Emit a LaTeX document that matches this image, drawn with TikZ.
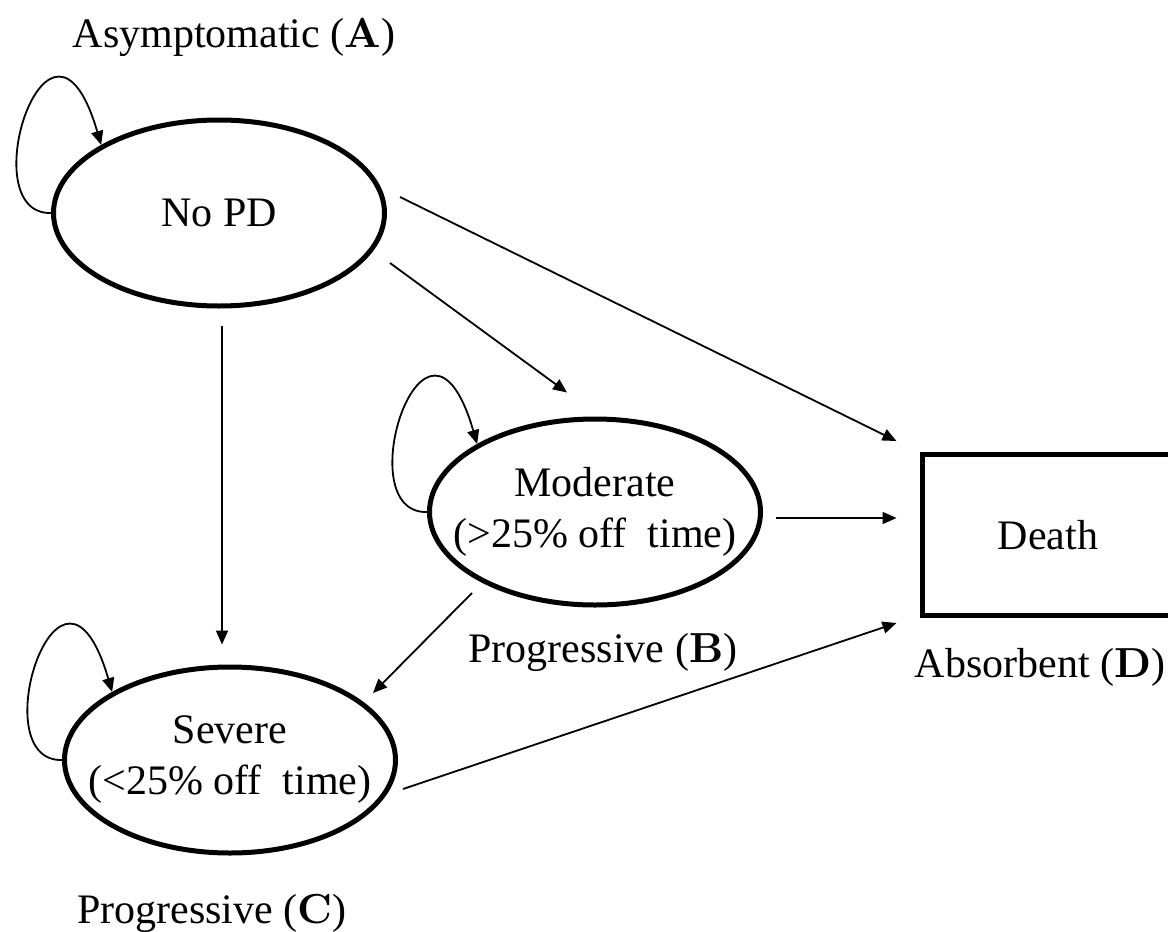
\documentclass[tikz,border=0pt]{standalone}
\usepackage{fontspec}
\setmainfont{Liberation Serif}
\newfontfamily\lmbold{lmroman10-bold.otf}
\usetikzlibrary{arrows.meta,shapes.geometric}
\begin{document}
\begin{tikzpicture}[x=1pt,y=-1pt,
  every node/.style={font=\fontsize{42}{51}\selectfont},
  state/.style={ellipse,draw,line width=5pt,minimum width=331pt,
    minimum height=186pt,inner xsep=-80pt,inner ysep=-20pt,align=center},
  sink/.style={rectangle,draw,line width=5pt,minimum width=252pt,
    minimum height=161pt,inner sep=0pt},
  lab/.style={anchor=base,inner sep=0pt},
  arr/.style={line width=1.8pt,-{Triangle[length=14pt,width=12pt]}}]
\useasboundingbox (0,0) rectangle (1168,932);

% states
\node[state] (nopd) at (219,213) {No PD};
\node[state] (mod)  at (595,512) {Moderate\\(>25\% off~ time)};
\node[state] (sev)  at (230,760) {Severe\\(<25\% off~ time)};
\node[sink]  (death) at (1048,535) {Death};

% state labels
\node[lab] (labA) at (234,47)  {Asymptomatic ({\lmbold A})};
\node[lab] (labB) at (603,662) {Progressive ({\lmbold B})};
\node[lab] (labD) at (1040,677) {Absorbent ({\lmbold D})};
\node[lab] (labC) at (212,923) {Progressive ({\lmbold C})};

% self transitions
\draw[arr] (nopd.180) .. controls +(-81,2) and +(-51,-175) .. (nopd.150);
\draw[arr] (mod.180)  .. controls +(-81,2) and +(-51,-175) .. (mod.150);
\draw[arr] (sev.180)  .. controls +(-81,2) and +(-51,-175) .. (sev.150);

% transitions between states
\draw[arr] ([shift={(181,-16)}]nopd.center) -- ([shift={(-23,-11)}]death.north west);
\draw[arr] ([shift={(171,50)}]nopd.center)  -- ([shift={(-28,-24)}]mod.north);
\draw[arr] ([shift={(3,17)}]nopd.south)     -- ([shift={(-8,-20)}]sev.north);
\draw[arr] ([shift={(13,6)}]mod.east)       -- ([shift={(-23,-17)}]death.west);
\draw[arr] ([shift={(-123,81)}]mod.center)  -- ([shift={(143,-67)}]sev.center);
\draw[arr] ([shift={(173,29)}]sev.center)   -- ([shift={(-23,5)}]death.south west);
\end{tikzpicture}
\end{document}
